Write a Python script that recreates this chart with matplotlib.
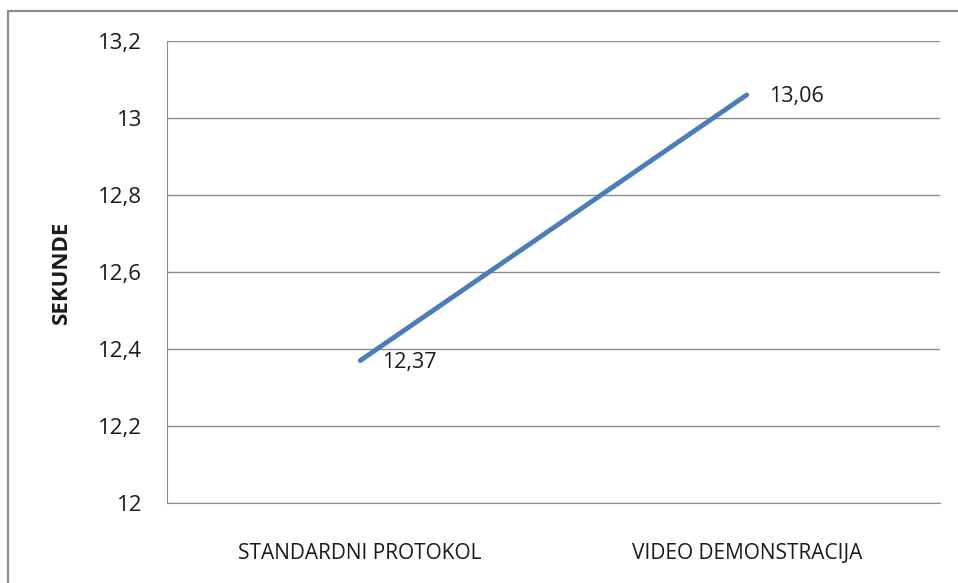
import matplotlib
matplotlib.use("Agg")
import matplotlib.pyplot as plt
from matplotlib.patches import Rectangle

categories = ["STANDARDNI PROTOKOL", "VIDEO DEMONSTRACIJA"]
values = [12.37, 13.06]
value_labels = ["12,37", "13,06"]
y_ticks = [12.0, 12.2, 12.4, 12.6, 12.8, 13.0, 13.2]
y_tick_labels = ["12", "12,2", "12,4", "12,6", "12,8", "13", "13,2"]

plt.rcParams["font.family"] = ["Open Sans", "DejaVu Sans"]
TXT = "#1a1a1a"

fig = plt.figure(figsize=(9.58, 5.83), dpi=100)
ax = fig.add_axes([167 / 958, 1 - 503 / 583, 773 / 958, 462 / 583])

# outer chart border (Excel-style frame)
fig.patches.append(Rectangle((8 / 958, -0.05), 1.1, 1 - 11 / 583 + 0.05,
                             transform=fig.transFigure, fill=False,
                             edgecolor="#8c8c8c", lw=1.6))

x = list(range(len(categories)))
ax.plot(x, values, color="#4a7ebb", lw=3.5, solid_capstyle="round", zorder=3)
for xi, v, lbl in zip(x, values, value_labels):
    ax.annotate(lbl, (xi, v), xytext=(16, -1.5), textcoords="offset points",
                fontsize=15.5, va="center", ha="left", color=TXT)

ax.set_xlim(-0.5, 1.5)
ax.set_ylim(12.0, 13.2)
ax.set_yticks(y_ticks)
ax.set_yticklabels(y_tick_labels, fontsize=16, color=TXT)
ax.set_xticks(x)
ax.set_xticklabels(categories, fontsize=15, color=TXT)
ax.tick_params(axis="y", length=0, pad=18)
ax.tick_params(axis="x", length=0, pad=29)
ax.grid(axis="y", color="#8c8c8c", lw=1)
ax.set_axisbelow(True)
for s in ("top", "right"):
    ax.spines[s].set_visible(False)
ax.spines["left"].set_color("#8c8c8c")
ax.spines["bottom"].set_color("#8c8c8c")
ax.set_ylabel("SEKUNDE", fontsize=16, fontweight="bold", labelpad=19, color=TXT)

fig.savefig("out.png", dpi=100)
